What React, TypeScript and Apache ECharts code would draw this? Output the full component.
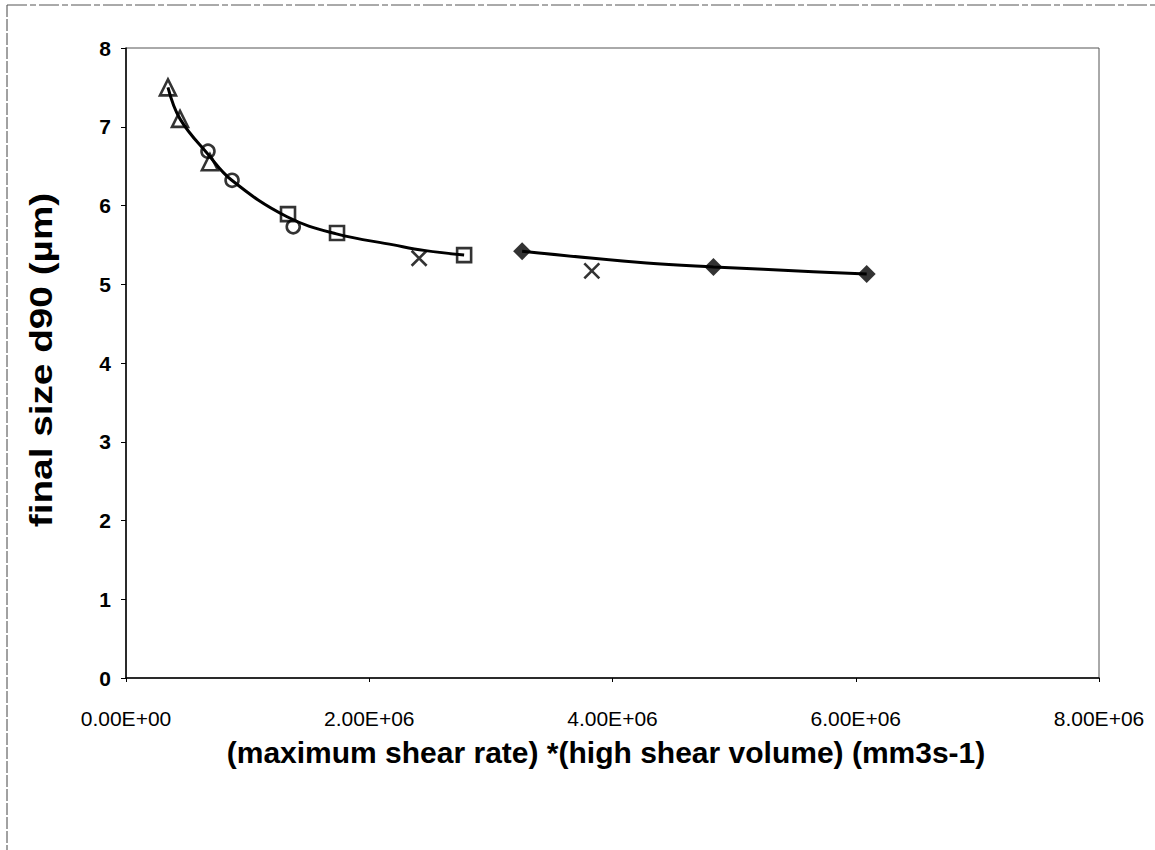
import React, { useEffect, useRef } from "react";
import * as echarts from "echarts";

// Data (x in mm3/s, y in µm)
const triangleX = [0.345e6, 0.444e6, 0.69e6];
const triangleY = [7.5, 7.1, 6.55];
const circleX = [0.674e6, 0.872e6, 1.375e6];
const circleY = [6.69, 6.32, 5.73];
const squareX = [1.332e6, 1.735e6, 2.78e6];
const squareY = [5.89, 5.65, 5.37];
const crossX = [2.41e6, 3.83e6];
const crossY = [5.33, 5.17];
const diamondX = [3.257e6, 4.83e6, 6.09e6];
const diamondY = [5.42, 5.22, 5.13];
// Trend curves
const curve1X = [0.345e6, 0.444e6, 0.674e6, 0.87e6, 1.32e6, 1.73e6, 2.2e6, 2.45e6, 2.78e6];
const curve1Y = [7.5, 7.1, 6.65, 6.32, 5.86, 5.64, 5.5, 5.43, 5.37];
const curve2X = [3.257e6, 4.28e6, 4.83e6, 5.65e6, 6.09e6];
const curve2Y = [5.42, 5.27, 5.22, 5.16, 5.13];

const xTicks = { min: 0, max: 8e6, interval: 2e6 };
const yTicks = { min: 0, max: 8, interval: 1 };
const xTitle = "(maximum shear rate) *(high shear volume) (mm3s-1)";
const yTitle = "final size d90 (µm)";

const pairs = (xs: number[], ys: number[]) => xs.map((x, i) => [x, ys[i]]);

const fmtExp = (v: number) => {
  const s = v.toExponential(2); // e.g. 2.00e+6
  const [m, e] = s.split("e");
  const sign = e[0] === "-" ? "-" : "+";
  const digits = e.replace(/[+-]/, "").padStart(2, "0");
  return `${m}E${sign}${digits}`;
};

const FONT = "Liberation Sans, Arial, sans-serif";

export default function App() {
  const ref = useRef<HTMLDivElement>(null);
  useEffect(() => {
    if (!ref.current) return;
    const chart = echarts.init(ref.current, undefined, { renderer: "svg" });
    const openStyle = { color: "rgba(0,0,0,0)", borderColor: "#000", borderWidth: 2.6 };
    chart.setOption({
      animation: false,
      backgroundColor: "#fff",
      grid: {
        left: 126,
        top: 48,
        width: 973,
        height: 630,
        show: true,
        borderColor: "#555",
        borderWidth: 1,
        backgroundColor: "#fff",
      },
      xAxis: {
        type: "value",
        min: xTicks.min,
        max: xTicks.max,
        interval: xTicks.interval,
        splitLine: { show: false },
        axisLine: { show: true, lineStyle: { color: "#000", width: 1.5 } },
        axisTick: { show: true, inside: false, length: 4, lineStyle: { color: "#000" } },
        axisLabel: {
          margin: 30,
          fontFamily: FONT,
          fontSize: 21,
          color: "#000",
          formatter: (v: number) => fmtExp(v),
        },
      },
      yAxis: {
        type: "value",
        min: yTicks.min,
        max: yTicks.max,
        interval: yTicks.interval,
        splitLine: { show: false },
        axisLine: { show: true, lineStyle: { color: "#000", width: 1.5 } },
        axisTick: { show: true, inside: false, length: 5, lineStyle: { color: "#000" } },
        axisLabel: { margin: 15, fontFamily: FONT, fontSize: 21, fontWeight: "bold", color: "#000" },
      },
      graphic: [
        { type: "line", shape: { x1: 7, y1: 5, x2: 7, y2: 850 }, style: { stroke: "#444", lineWidth: 1, lineDash: [12, 2] } },
        { type: "line", shape: { x1: 7, y1: 5, x2: 1155, y2: 5 }, style: { stroke: "#555", lineWidth: 1, lineDash: [20, 3, 6, 3] } },
        {
          type: "text",
          x: 606,
          y: 752,
          style: {
            text: xTitle,
            font: `bold 30px ${FONT}`,
            fill: "#000",
            align: "center",
            verticalAlign: "middle",
          },
        },
        {
          type: "text",
          x: 41,
          y: 360,
          rotation: Math.PI / 2,
          scaleX: 1.25,
          style: {
            text: yTitle,
            font: `bold 31px ${FONT}`,
            fill: "#000",
            align: "center",
            verticalAlign: "middle",
          },
        },
      ],
      series: [
        {
          type: "line",
          data: pairs(curve1X, curve1Y),
          smooth: 0.4,
          showSymbol: false,
          lineStyle: { color: "#000", width: 3 },
          z: 2,
        },
        {
          type: "line",
          data: pairs(curve2X, curve2Y),
          smooth: 0.4,
          showSymbol: false,
          lineStyle: { color: "#000", width: 3 },
          z: 2,
        },
        { type: "scatter", data: pairs(triangleX, triangleY), symbol: "triangle", symbolSize: 16, itemStyle: openStyle, z: 3 },
        { type: "scatter", data: pairs(circleX, circleY), symbol: "circle", symbolSize: 13, itemStyle: openStyle, z: 3 },
        { type: "scatter", data: pairs(squareX, squareY), symbol: "rect", symbolSize: 14, itemStyle: openStyle, z: 3 },
        {
          type: "scatter",
          data: pairs(crossX, crossY),
          symbol: "path://M0 0L10 10M10 0L0 10",
          symbolSize: 15,
          itemStyle: openStyle,
          z: 3,
        },
        { type: "scatter", data: pairs(diamondX, diamondY), symbol: "diamond", symbolSize: 18, itemStyle: { color: "#000" }, z: 3 },
      ],
    });
    return () => chart.dispose();
  }, []);
  return (
    <div
      ref={ref}
      style={{ position: "fixed", left: 0, top: 0, width: 1155, height: 850, background: "#fff" }}
    />
  );
}
